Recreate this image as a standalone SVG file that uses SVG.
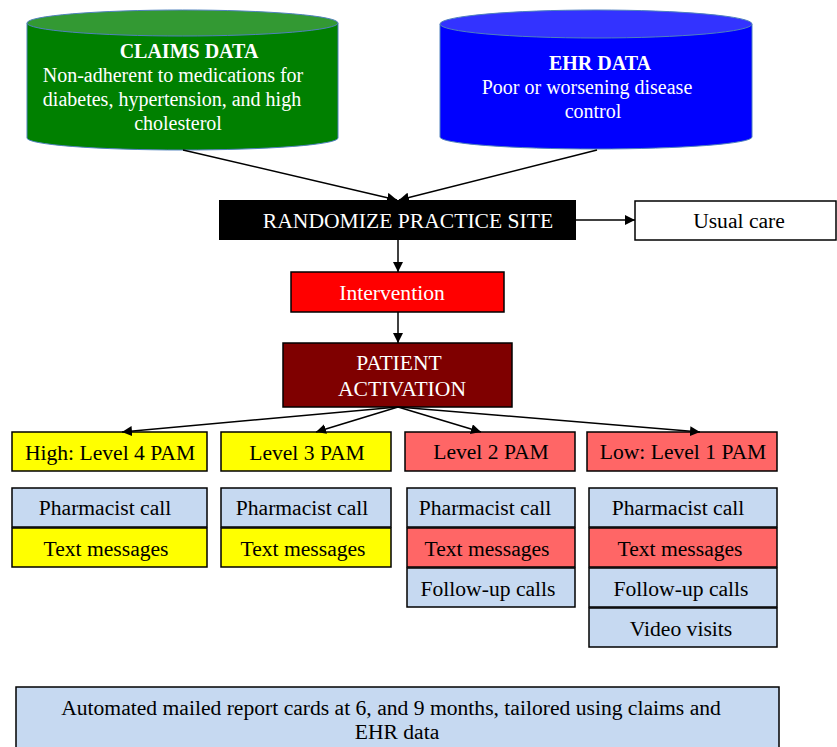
<svg xmlns="http://www.w3.org/2000/svg" width="837" height="747" viewBox="0 0 837 747">
<defs>
<marker id="ah" viewBox="0 0 10 10" refX="10" refY="5" markerWidth="10" markerHeight="10" markerUnits="userSpaceOnUse" orient="auto">
<path d="M0,0 L10,5 L0,10 z" fill="#000"/>
</marker>
<style>
text{font-family:"Liberation Serif","Times New Roman",serif;font-size:21.6px;text-anchor:middle}
.w{fill:#fff}
.k{fill:#000}
.cyl{font-size:20px}
.b{font-weight:bold}
.box{stroke:#000;stroke-width:1.5}
.blue{fill:#C6D9F1}
.yel{fill:#FFFF00}
.pink{fill:#FF6666}
.conn line{stroke:#000;stroke-width:1.5;marker-end:url(#ah)}
</style>
</defs>
<rect width="837" height="747" fill="#fff"/>

<g id="claims">
<path d="M27,23 L27,138 A155.5,12 0 0 0 338,138 L338,23 Z" fill="#008000" stroke="#4F81BD" stroke-width="1"/>
<ellipse cx="182.5" cy="23" rx="155.5" ry="13" fill="#339933" stroke="#4F81BD" stroke-width="1"/>
<text class="w cyl b" x="189" y="58">CLAIMS DATA</text>
<text class="w cyl" x="173" y="82">Non-adherent to medications for</text>
<text class="w cyl" x="172" y="106">diabetes, hypertension, and high</text>
<text class="w cyl" x="178" y="130">cholesterol</text>
</g>

<g id="ehr">
<path d="M440,24 L440,137 A156,12 0 0 0 752,137 L752,24 Z" fill="#0000FF" stroke="#4F81BD" stroke-width="1"/>
<ellipse cx="596" cy="24" rx="156" ry="14" fill="#3333FF" stroke="#4F81BD" stroke-width="1"/>
<text class="w cyl b" x="600" y="70">EHR DATA</text>
<text class="w cyl" x="587" y="94">Poor or worsening disease</text>
<text class="w cyl" x="593" y="118">control</text>
</g>

<g id="randomize">
<rect x="219" y="200" width="357" height="40" fill="#000"/>
<text class="w" x="408" y="228">RANDOMIZE PRACTICE SITE</text>
</g>

<g id="usual">
<rect x="635" y="201" width="201" height="39" fill="#fff" stroke="#000" stroke-width="1.5"/>
<text class="k" x="739" y="228">Usual care</text>
</g>

<g id="intervention">
<rect class="box" x="291" y="272" width="213" height="40" fill="#FF0000"/>
<text class="w" x="392" y="300">Intervention</text>
</g>

<g id="activation">
<rect class="box" x="283" y="343" width="229" height="64" fill="#7F0000"/>
<text class="w" x="399" y="370">PATIENT</text>
<text class="w" x="402" y="396">ACTIVATION</text>
</g>

<g id="level4">
<rect class="box yel" x="12" y="432" width="195" height="39"/>
<text class="k" x="110" y="460">High: Level 4 PAM</text>
</g>
<g id="level3">
<rect class="box yel" x="221" y="432" width="170" height="39"/>
<text class="k" x="307" y="460">Level 3 PAM</text>
</g>
<g id="level2">
<rect class="box pink" x="405" y="432" width="170" height="39"/>
<text class="k" x="491" y="459">Level 2 PAM</text>
</g>
<g id="level1">
<rect class="box pink" x="587" y="432" width="190" height="39"/>
<text class="k" x="683" y="459">Low: Level 1 PAM</text>
</g>

<g id="c1-pharm"><rect class="box blue" x="12" y="488" width="195" height="39"/><text class="k" x="105" y="515">Pharmacist call</text></g>
<g id="c1-text"><rect class="box yel" x="12" y="528" width="195" height="39"/><text class="k" x="106" y="556">Text messages</text></g>

<g id="c2-pharm"><rect class="box blue" x="221" y="488" width="170" height="39"/><text class="k" x="302" y="515">Pharmacist call</text></g>
<g id="c2-text"><rect class="box yel" x="221" y="528" width="170" height="39"/><text class="k" x="303" y="556">Text messages</text></g>

<g id="c3-pharm"><rect class="box blue" x="407" y="488" width="168" height="39"/><text class="k" x="485" y="515">Pharmacist call</text></g>
<g id="c3-text"><rect class="box pink" x="407" y="528" width="168" height="39"/><text class="k" x="487" y="556">Text messages</text></g>
<g id="c3-follow"><rect class="box blue" x="407" y="568" width="168" height="39"/><text class="k" x="488" y="596">Follow-up calls</text></g>

<g id="c4-pharm"><rect class="box blue" x="589" y="488" width="188" height="39"/><text class="k" x="678" y="515">Pharmacist call</text></g>
<g id="c4-text"><rect class="box pink" x="589" y="528" width="188" height="39"/><text class="k" x="680" y="556">Text messages</text></g>
<g id="c4-follow"><rect class="box blue" x="589" y="568" width="188" height="39"/><text class="k" x="681" y="596">Follow-up calls</text></g>
<g id="c4-video"><rect class="box blue" x="589" y="608" width="188" height="39"/><text class="k" x="681" y="636">Video visits</text></g>

<g id="reports">
<rect class="box blue" x="16" y="687" width="763" height="64"/>
<text class="k" x="391" y="715">Automated mailed report cards at 6, and 9 months, tailored using claims and</text>
<text class="k" x="397" y="739">EHR data</text>
</g>

<g class="conn" id="connectors">
<line x1="183" y1="150" x2="397" y2="200"/>
<line x1="597" y1="150" x2="399" y2="200"/>
<line x1="576" y1="220" x2="635" y2="220"/>
<line x1="398" y1="240" x2="398" y2="272"/>
<line x1="398" y1="312" x2="398" y2="343"/>
<line x1="398" y1="407" x2="122" y2="432"/>
<line x1="398" y1="407" x2="316" y2="432"/>
<line x1="398" y1="407" x2="481" y2="432"/>
<line x1="398" y1="407" x2="700" y2="432"/>
</g>
</svg>
